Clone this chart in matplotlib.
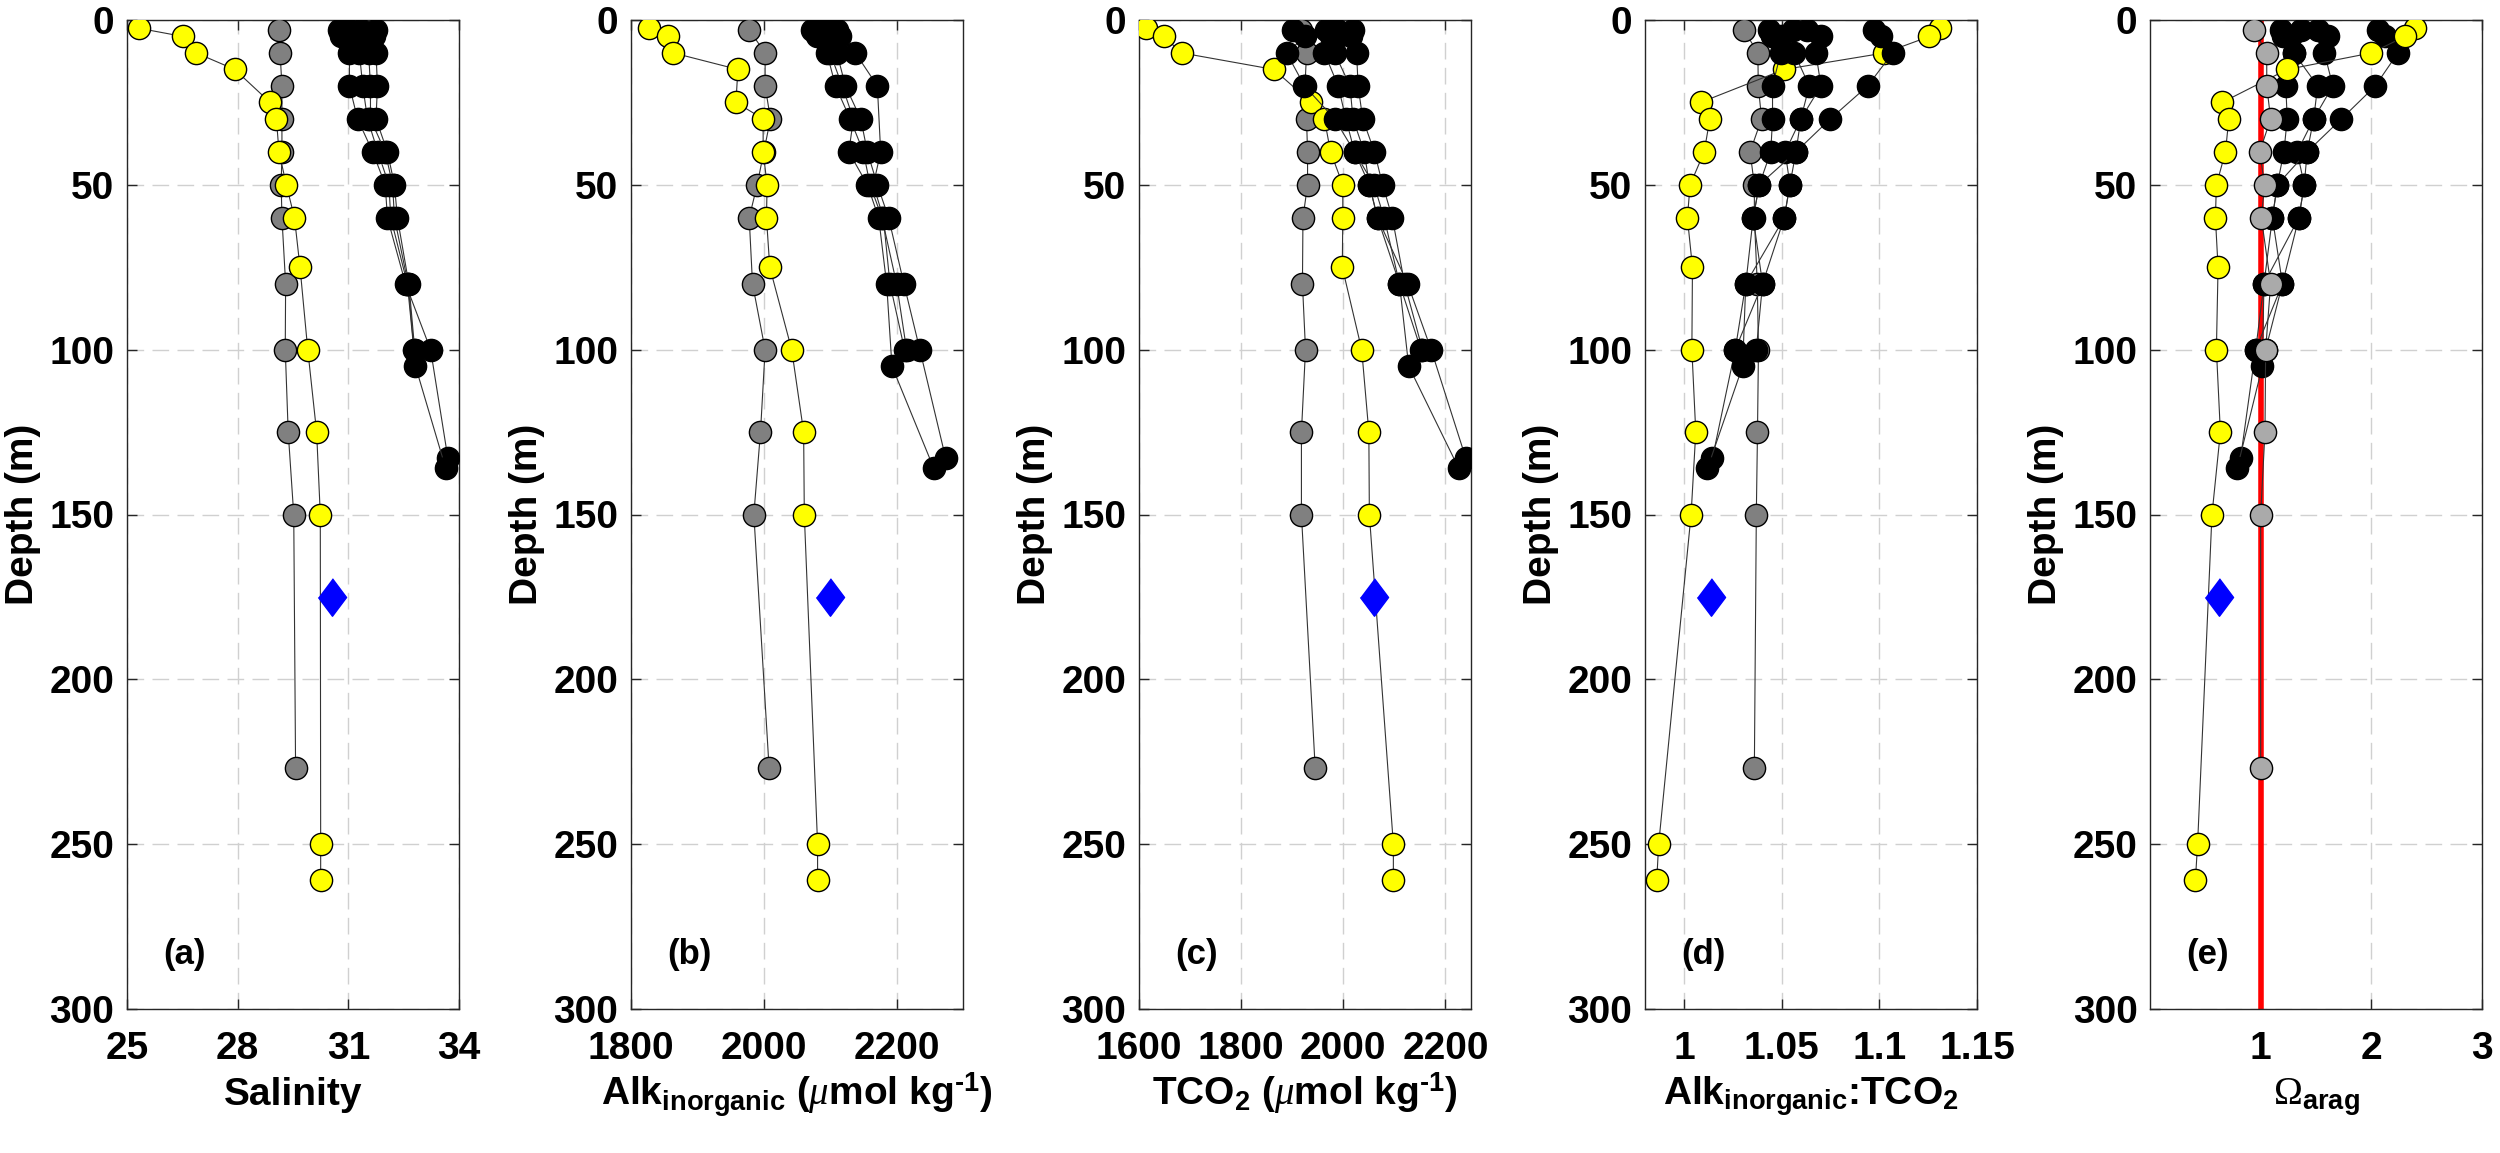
import numpy as np
import matplotlib
matplotlib.use('Agg')
import matplotlib.pyplot as plt

plt.rcParams['font.family'] = ['Liberation Sans', 'DejaVu Sans']
plt.rcParams['font.weight'] = 'bold'
plt.rcParams['mathtext.fontset'] = 'custom'
plt.rcParams['mathtext.rm'] = 'Liberation Serif:regular'
plt.rcParams['mathtext.it'] = 'Liberation Serif:italic:regular'
plt.rcParams['mathtext.bf'] = 'Liberation Sans:bold'

# yellow profile
yel_depth = [2.5, 5, 10, 15, 25, 30, 40, 50, 60, 75, 100, 125, 150, 250, 261]
yel_sal = [25.32, 26.52, 26.88, 27.92, 28.88, 29.05, 29.12, 29.32, 29.54, 29.69, 29.90, 30.14, 30.24, 30.25, 30.25]
yel_alk = [1827, 1855, 1864, 1961, 1958, 1999, 1999, 2005, 2004, 2009, 2042, 2060, 2061, 2081, 2081]
yel_tco2 = [1614, 1648, 1684, 1864, 1937, 1963, 1975, 1999, 1999, 1998, 2036, 2050, 2051, 2098, 2098]
yel_ratio = [1.131, 1.1256, 1.1026, 1.0513, 1.0085, 1.0132, 1.0103, 1.0031, 1.0017, 1.0043, 1.004, 1.006, 1.0036, 0.987, 0.986]
yel_omega = [2.394, 2.303, 2.0, 1.24, 0.652, 0.712, 0.682, 0.60, 0.591, 0.615, 0.60, 0.636, 0.56, 0.43, 0.41]

# grey profile
gry_depth = [3, 10, 20, 30, 40, 50, 60, 80, 100, 125, 150, 227]
gry_sal = [29.13, 29.15, 29.2, 29.2, 29.2, 29.18, 29.2, 29.3, 29.29, 29.37, 29.52, 29.57]
gry_alk = [1978, 2002, 2002, 2010, 2000, 1990, 1978, 1983, 2002, 1995, 1985, 2008]
gry_tco2 = [1918, 1928, 1925, 1928, 1930, 1930, 1921, 1920, 1926, 1918, 1918, 1945]
gry_ratio = [1.0306, 1.0378, 1.038, 1.0397, 1.0338, 1.036, 1.036, 1.0375, 1.0381, 1.0376, 1.037, 1.036]
gry_omega = [0.939, 1.055, 1.055, 1.09, 0.991, 1.036, 1.006, 1.09, 1.045, 1.039, 1.0, 1.0]

# black profiles (four casts), nan = no sample
blk_depth = [[3, 5, 10, 20, 30, 40, 50, 60, 80, 100, 133],
             [3, 5, 10, 20, 30, 40, 50, 60, 80, 105, 136],
             [3, 5, 10, 20, 30, 40, 50, 60, 80, 100],
             [3, 5, 10, 20, 30, 40, 50, 60, 80, 100]]
blk_sal = [[30.76, 30.80, 31.03, 31.03, 31.25, 31.66, 32.00, 32.06, 32.55, 33.23, 33.70],
           [31.03, 31.05, 31.30, 31.39, 31.52, 31.80, 32.10, 32.15, 32.60, 32.82, 33.64],
           [31.34, 31.40, 31.55, 31.60, 31.60, 32.00, 32.20, 32.25, 32.62, 32.78],
           [31.75, 31.70, 31.75, 31.79, 31.75, 32.06, 32.25, 32.33, 32.64, 32.80]]
blk_alk = [[2085, 2088, 2110, 2123, 2146, 2156, 2171, 2188, 2211, 2235, 2274],
           [2098, 2080, 2100, 2118, 2135, 2128, 2156, 2173, 2185, 2193, 2256],
           [2110, 2115, 2138, 2171, np.nan, 2176, 2165, 2180, 2190, 2212],
           [2072, 2090, 2095, 2108, 2130, 2150, 2160, 2178, 2200, 2215]]
blk_tco2 = [[1967, 1975, 1983, 2013, 2019, 2041, 2051, 2067, 2126, 2172, 2240],
            [1987, 1990, 1963, 1990, 2005, 2022, 2060, 2080, 2110, 2128, 2226],
            [2019, 2015, 2026, 2029, 2038, 2061, 2077, 2096, 2120, 2155],
            [1902, 1925, 1889, 1924, 1983, 2022, 2051, 2067, 2110, 2152]]
blk_ratio = [[1.0436, 1.045, 1.0495, 1.0453, 1.0453, 1.0444, 1.0385, 1.0354, 1.0402, 1.0262, 1.0145],
             [1.0556, 1.0495, 1.0564, 1.0641, 1.0598, 1.0518, 1.0542, 1.0513, 1.0316, 1.030, 1.012],
             [1.0632, 1.0701, 1.0675, 1.0701, 1.0598, 1.0573, 1.0385, 1.0354, 1.0316, 1.0262],
             [1.0974, 1.1008, 1.1068, 1.094, 1.0749, 1.0573, 1.0542, 1.0513, 1.0402, 1.037]]
blk_omega = [[1.18, 1.20, 1.30, 1.227, 1.24, 1.21, 1.15, 1.106, 1.197, 0.955, 0.818],
             [1.364, 1.27, 1.30, 1.515, 1.479, 1.33, 1.394, 1.345, 1.03, 1.015, 0.788],
             [1.515, 1.606, 1.576, 1.652, 1.479, 1.42, 1.15, 1.106, 1.03, 0.955],
             [2.06, 2.12, 2.24, 2.036, 1.73, 1.42, 1.394, 1.345, 1.197, 1.045]]

# blue diamond at 175 m
dia_depth = 175
dia_vals = [30.55, 2099, 2061, 1.0138, 0.62]

panels = [
    ('a', 'Salinity', (25, 34), [25, 28, 31, 34], ['25', '28', '31', '34'],
     yel_sal, gry_sal, blk_sal),
    ('b', 'Alk$_{\\mathbf{inorganic}}$ ($\\mu$mol kg$^{\\mathbf{\u20101}}$)', (1800, 2300),
     [1800, 2000, 2200], ['1800', '2000', '2200'], yel_alk, gry_alk, blk_alk),
    ('c', 'TCO$_{\\mathbf{2}}$ ($\\mu$mol kg$^{\\mathbf{\u20101}}$)', (1600, 2250),
     [1600, 1800, 2000, 2200], ['1600', '1800', '2000', '2200'], yel_tco2, gry_tco2, blk_tco2),
    ('d', r'Alk$_{\mathbf{inorganic}}$:TCO$_{\mathbf{2}}$', (0.98, 1.15),
     [1, 1.05, 1.1, 1.15], ['1', '1.05', '1.1', '1.15'], yel_ratio, gry_ratio, blk_ratio),
    ('e', r'$\Omega_{\mathbf{arag}}$', (0, 3), [1, 2, 3], ['1', '2', '3'],
     yel_omega, gry_omega, blk_omega),
]

fig = plt.figure(figsize=(25, 11.53), dpi=100)
lefts = [127, 631, 1139, 1645, 2150]
line_c = '#333333'
ms = 16
fs = 28

for i, (tag, xlab, xlim, xt, xtl, yv, gv, bv) in enumerate(panels):
    ax = fig.add_axes([lefts[i] / 2500, 1 - 1009 / 1153, 332 / 2500, 989 / 1153])
    gcol = '#aaaaaa' if tag == 'e' else '#808080'
    if tag == 'e':
        z_g, z_y, z_b = 5, 4, 3
        ax.axvline(1, color='red', lw=4, zorder=2)
    else:
        z_g, z_y, z_b = 3, 4, 5
    ax.plot(gv, gry_depth, '-o', color=line_c, lw=0.8, mfc=gcol, mec='k', mew=1, ms=ms, zorder=z_g)
    ax.plot(yv, yel_depth, '-o', color=line_c, lw=0.8, mfc='#ffff00', mec='k', mew=1, ms=ms, zorder=z_y)
    for dep, val in zip(blk_depth, bv):
        dep = np.array(dep, float)
        val = np.array(val, float)
        ok = ~np.isnan(val)
        ax.plot(val[ok], dep[ok], '-o', color=line_c, lw=0.8, mfc='k', mec='k', mew=1, ms=ms, zorder=z_b)
    ax.plot([dia_vals[i]], [dia_depth], marker=[(0, 1), (0.75, 0), (0, -1), (-0.75, 0)],
            ms=27, mfc='#0000ff', mec='#0000ff', ls='none', zorder=6)

    ax.set_xlim(*xlim)
    ax.set_ylim(300, 0)
    ax.set_xticks(xt)
    ax.set_xticklabels(xtl)
    ax.set_yticks([0, 50, 100, 150, 200, 250, 300])
    ax.tick_params(direction='in', length=7, width=1, top=True, right=True,
                   labelsize=fs, pad=9, color='#262626')
    ax.tick_params(axis='x', pad=16)
    ax.grid(True, ls=(0, (12, 6)), color='#d0d0d0', lw=1)
    ax.set_axisbelow(True)
    for sp in ax.spines.values():
        sp.set_color('#262626')
        sp.set_linewidth(1)
    ax.set_xlabel(xlab, fontsize=fs, fontweight='bold')
    ax.xaxis.set_label_coords(0.5, -0.097)
    ax.xaxis.label.set_va('baseline')
    ax.set_ylabel('Depth (m)', fontsize=fs, fontweight='bold', labelpad=6)
    ax.text(0.11, 0.055, '(%s)' % tag, transform=ax.transAxes, fontsize=25,
            fontweight='bold', va='center', ha='left')

fig.savefig('out.png', dpi=100)
